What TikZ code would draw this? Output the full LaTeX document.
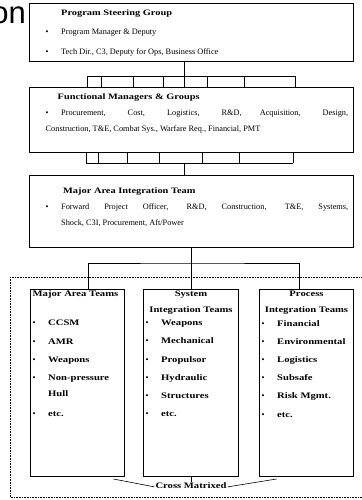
\documentclass[tikz,border=0pt]{standalone}
\usepackage{fontspec}
\setmainfont{Liberation Serif}
\setsansfont{Liberation Sans}
\newfontfamily\headfont[FakeStretch=1.25]{Liberation Serif}
\usetikzlibrary{positioning, calc}
\setlength{\parindent}{0pt}
\newcommand{\hd}[1]{{\headfont\bfseries #1}}
\newcommand{\itm}{\makebox[15.5pt][l]{\normalfont\textbullet}}

\begin{document}
\begin{tikzpicture}[
    x=1pt, y=-1pt,
    box/.style={draw, rectangle, line width=0.6pt, inner sep=0pt, outer sep=0pt},
    team/.style={box, minimum width=94pt, minimum height=187pt},
    txt/.style={inner sep=0pt, align=left, font=\fontsize{8.3}{16}\selectfont},
    teamtxt/.style={inner sep=0pt, align=left, font=\headfont\bfseries\fontsize{8.5}{18.2}\selectfont},
    conn/.style={line width=0.6pt}
]
    \useasboundingbox (0,0) rectangle (361,500);

    % title fragment
    \node[anchor=base east, inner sep=0pt, font=\sffamily\fontsize{31}{31}\selectfont] (ttl) at (26,24) {on};

    % Program Steering Group
    \node[box, minimum width=324pt, minimum height=58pt] (psg) at (191,32.5) {};
    \node[txt, font=\fontsize{8.3}{19.5}\selectfont, below right=6pt and 16.5pt of psg.north west] (psgtxt)
        {\hspace*{15.5pt}\hd{Program Steering Group}\\
         \itm Program Manager \& Deputy\\
         \itm Tech Dir., C3, Deputy for Ops, Business Office};

    % Functional Managers
    \node[box, minimum width=324pt, minimum height=65pt, below=25.5pt of psg] (fmg) {};
    \node[txt, text width=302.5pt, align=justify, below right=6.4pt and 16.5pt of fmg.north west] (fmgtxt)
        {\hspace*{12pt}\hd{Functional Managers \& Groups}\par
         \itm Procurement, Cost, Logistics, R\&D, Acquisition, Design,\linebreak
         Construction, T\&E, Combat Sys., Warfare Req., Financial, PMT};

    % Major Area Integration Team
    \node[box, minimum width=324pt, minimum height=72pt, below=23pt of fmg] (mait) {};
    \node[txt, text width=302.5pt, align=justify, below right=12.4pt and 16.5pt of mait.north west] (maittxt)
        {\hspace*{17.5pt}\hd{Major Area Integration Team}\par
         \itm\parbox[t]{287pt}{Forward Project Officer, R\&D, Construction, T\&E, Systems,\linebreak
         Shock, C3I, Procurement, Aft/Power}};

    % Team boxes
    \node[team, minimum width=95pt, below=42pt of mait] (sit) {};
    \node[team, left=19pt of sit] (mat) {};
    \node[team, right=21pt of sit] (pit) {};

    \node[teamtxt, font=\headfont\bfseries\fontsize{8.5}{16}\selectfont, below right=1.5pt and 2pt of mat.north west] (mattl) {Major Area Teams};
    \node[teamtxt, align=center, font=\headfont\bfseries\fontsize{8.5}{16}\selectfont, below=1.5pt of sit.north] (sittl) {System\\Integration Teams};
    \node[teamtxt, align=center, font=\headfont\bfseries\fontsize{8.5}{16}\selectfont, below=1.5pt of pit.north] (pittl) {Process\\Integration Teams};

    \node[teamtxt, below right=31pt and 2pt of mat.north west] (matlist)
        {\itm CCSM\\ \itm AMR\\ \itm Weapons\\ \itm Non-pressure\\[-2.2pt]
         \hspace*{15.5pt}Hull\\[2.2pt] \itm etc.};
    \node[teamtxt, below right=31pt and 2pt of sit.north west] (sitlist)
        {\itm Weapons\\ \itm Mechanical\\ \itm Propulsor\\ \itm Hydraulic\\ \itm Structures\\ \itm etc.};
    \node[teamtxt, below right=31pt and 2pt of pit.north west] (pitlist)
        {\itm Financial\\ \itm Environmental\\ \itm Logistics\\ \itm Subsafe\\ \itm Risk Mgmt.\\ \itm etc.};

    \node[inner sep=0pt, font=\headfont\bfseries\fontsize{8.5}{10}\selectfont, below=6pt of sit] (cross) {Cross Matrixed};

    % ladder psg -> fmg
    \coordinate (busA) at ($(fmg.north west)+(0pt,11pt)$);
    \draw[conn] ($(psg.south west)+(155pt,0pt)$) -- ($(busA)+(155pt,0pt)$);
    \draw[conn] ($(busA)+(58pt,0pt)$) -- ($(busA)+(266pt,0pt)$);
    \foreach \dx in {58,72,104,134,155,178,215,266}
        \draw[conn] ($(busA)+(\dx pt,0pt)$) -- ($(fmg.north west)+(\dx pt,0pt)$);

    % ladder fmg -> mait
    \coordinate (busB) at ($(fmg.south west)+(0pt,-11pt)$);
    \draw[conn] ($(busB)+(57pt,0pt)$) -- ($(busB)+(264pt,0pt)$);
    \foreach \dx in {57,69,98,130,173,210,264}
        \draw[conn] ($(fmg.south west)+(\dx pt,0pt)$) -- ($(busB)+(\dx pt,0pt)$);
    \draw[conn] ($(busB)+(155pt,0pt)$) -- ($(mait.north west)+(155pt,0pt)$);

    % mait -> teams
    \coordinate (busC) at ($(mait.south)+(0pt,-16pt)$);
    \coordinate (matTop) at ($(mat.north west)+(58pt,0pt)$);
    \coordinate (pitTop) at ($(pit.north west)+(40pt,0pt)$);
    \draw[conn] (mait.south) -- (busC);
    \draw[conn] (matTop) |- (busC) -| (pitTop);
    \draw[conn] (busC) -- (busC |- sit.north);

    % cross matrixed
    \draw[conn] (sit.south) -- (cross.north);
    \draw[conn] ($(mat.south east)+(-11pt,-3pt)$) -- ($(cross.south west)+(-1pt,1.5pt)$);
    \draw[conn] ($(cross.south east)+(1pt,1.5pt)$) -- ($(pit.south west)+(17pt,-3pt)$);

    % dotted frame
    \draw[densely dotted, line width=0.6pt] (10,277) rectangle (368,497);
\end{tikzpicture}
\end{document}
